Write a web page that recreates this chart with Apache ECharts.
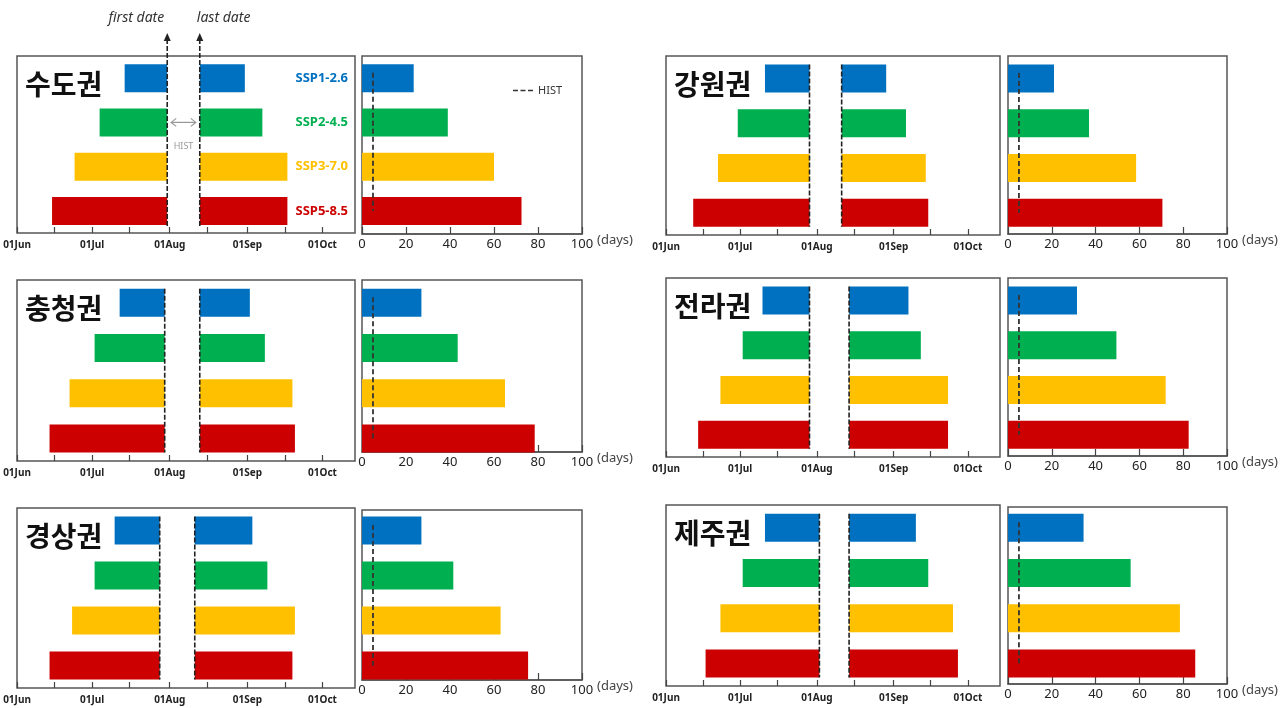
<!DOCTYPE html>
<html>
<head>
<meta charset="utf-8">
<title>권역별 first/last date</title>
<script src="https://cdn.jsdelivr.net/npm/echarts@6/dist/echarts.min.js"></script>
<style>
  html, body { margin: 0; padding: 0; background: #fff; }
  #chart { width: 1286px; height: 708px; }
</style>
</head>
<body>
<div id="chart"></div>
<script>
var regions = ['수도권', '강원권', '충청권', '전라권', '경상권', '제주권'];
var scenarios = ['SSP1-2.6', 'SSP2-4.5', 'SSP3-7.0', 'SSP5-8.5'];
var colors = ['#0070c0', '#00b050', '#ffc000', '#cc0000'];

// 날짜는 6월 1일부터의 일수 (0 = 01Jun)
var firstDate = [
  [43, 33, 23, 14],
  [40, 29, 21, 11],
  [41, 31, 21, 13],
  [39, 31, 22, 13],
  [39, 31, 22, 13],
  [40, 31, 22, 16]
];
var lastDate = [
  [91, 98, 108, 108],
  [89, 97, 105, 106],
  [93, 99, 110, 111],
  [98, 103, 114, 114],
  [94, 100, 111, 110],
  [101, 106, 116, 118]
];
var histFirst = [60, 58, 59, 58, 57, 62];
var histLast = [73, 71, 73, 74, 71, 74];

// 지속일수 (days)
var duration = [
  [23.5, 39, 60, 72.5],
  [21, 37, 58.5, 70.5],
  [27, 43.5, 65, 78.5],
  [31.5, 49.5, 72, 82.5],
  [27, 41.5, 63, 75.5],
  [34.5, 56, 78.5, 85.5]
];
var histDuration = [5, 5, 5, 5, 5, 5];

var monthTicks = [0, 30, 61, 92, 122];
var monthLabels = ['01Jun', '01Jul', '01Aug', '01Sep', '01Oct'];
var midTicks = [15, 45, 76, 107];

// 패널 위치 (px)
var dateBox = [
  [17, 56, 338, 177], [666, 56, 334, 179],
  [17, 280, 338, 181], [666, 278, 334, 179],
  [17, 508, 338, 180], [666, 505, 334, 181]
];
var durBox = [
  [362, 56, 220, 178], [1008, 56, 219, 178],
  [362, 280, 220, 172], [1008, 278, 219, 178],
  [362, 510, 220, 170], [1008, 507, 219, 177]
];
var BAR = 28;
var FRAME = '#555';

var chart = echarts.init(document.getElementById('chart'));

var grid = [], xAxis = [], yAxis = [], series = [], title = [];

function colorOf(p) { return colors[p.dataIndex]; }

regions.forEach(function(name, r) {
  var d = dateBox[r], u = durBox[r];
  var gi = r * 3;

  // 날짜 패널
  grid.push({ left: d[0], top: d[1], width: d[2], height: d[3], show: true, borderColor: FRAME, borderWidth: 1.5 });
  // 지속일수 막대 (날짜 패널과 같은 세로 범위)
  grid.push({ left: u[0], top: d[1], width: u[2], height: d[3] });
  // 지속일수 테두리 + 축
  grid.push({ left: u[0], top: u[1], width: u[2], height: u[3], show: true, borderColor: FRAME, borderWidth: 1.5 });

  xAxis.push({
    gridIndex: gi, type: 'value', min: 0, max: 135,
    axisLine: { lineStyle: { color: FRAME, width: 1.5 } },
    axisTick: { show: true, inside: true, length: 6, customValues: monthTicks.concat(midTicks), lineStyle: { color: '#444', width: 1.2 } },
    axisLabel: {
      customValues: monthTicks, margin: 7,
      formatter: function(v) { return monthLabels[monthTicks.indexOf(v)]; },
      color: '#222', fontSize: 10, fontWeight: 'bold', fontFamily: 'Noto Sans'
    },
    splitLine: { show: false }
  });
  xAxis.push({ gridIndex: gi + 1, type: 'value', min: 0, max: 100, show: false });
  xAxis.push({
    gridIndex: gi + 2, type: 'value', min: 0, max: 100, interval: 20,
    name: '(days)', nameLocation: 'end', nameGap: 14,
    nameTextStyle: { color: '#444', fontSize: 13, fontFamily: 'Noto Sans', verticalAlign: 'top' },
    axisLine: { lineStyle: { color: FRAME, width: 1.5 } },
    axisTick: { show: true, inside: true, length: 7, lineStyle: { color: '#444', width: 1.2 } },
    axisLabel: { margin: 4, color: '#222', fontSize: 13, fontFamily: 'Noto Sans' },
    splitLine: { show: false }
  });

  yAxis.push({
    gridIndex: gi, type: 'category', data: scenarios, inverse: true, position: 'right',
    axisLine: { show: false }, axisTick: { show: false },
    axisLabel: {
      show: r === 0, inside: true, margin: 7,
      fontSize: 13, fontWeight: 'bold', fontFamily: 'Noto Sans',
      color: function(v, i) { return colors[i]; }
    }
  });
  yAxis.push({ gridIndex: gi + 1, type: 'category', data: scenarios, inverse: true, show: false });
  yAxis.push({ gridIndex: gi + 2, type: 'value', min: 0, max: 1, show: false });

  // 막대: first date ~ HIST first, HIST last ~ last date
  var stack = 'dates' + r;
  series.push({ type: 'bar', xAxisIndex: gi, yAxisIndex: gi, stack: stack, barWidth: BAR, silent: true,
    itemStyle: { color: 'rgba(0,0,0,0)' }, data: firstDate[r] });
  series.push({ type: 'bar', xAxisIndex: gi, yAxisIndex: gi, stack: stack, barWidth: BAR,
    itemStyle: { color: colorOf }, data: firstDate[r].map(function(v) { return histFirst[r] - v; }) });
  series.push({ type: 'bar', xAxisIndex: gi, yAxisIndex: gi, stack: stack, barWidth: BAR, silent: true,
    itemStyle: { color: 'rgba(0,0,0,0)' }, data: firstDate[r].map(function() { return histLast[r] - histFirst[r]; }) });
  series.push({ type: 'bar', xAxisIndex: gi, yAxisIndex: gi, stack: stack, barWidth: BAR,
    itemStyle: { color: colorOf }, data: lastDate[r].map(function(v) { return v - histLast[r]; }) });

  // HIST first / last 점선
  series.push({
    type: 'custom', name: 'HIST dates', xAxisIndex: gi, yAxisIndex: gi, z: 5, silent: true,
    data: [[histFirst[r], 0], [histLast[r], 0]],
    renderItem: function(params, api) {
      var x = api.coord([api.value(0), 0])[0];
      var yTop = api.coord([0, 0])[1] - BAR / 2;
      var yBot = api.coord([0, 3])[1] + BAR / 2;
      var kids = [];
      var dash = { stroke: '#222', lineWidth: 1.6, lineDash: [5, 2] };
      if (r === 0) {
        var tip = api.coord([0, 0])[1] - api.size([0, 1])[1] / 2 - 23;
        kids.push({ type: 'line', shape: { x1: x, y1: tip + 6, x2: x, y2: yBot + 2 }, style: dash });
        kids.push({ type: 'polygon', shape: { points: [[x, tip], [x - 3.5, tip + 8], [x + 3.5, tip + 8]] },
          style: { fill: '#222' } });
        var first = params.dataIndex === 0;
        kids.push({ type: 'text', x: x - 3, y: tip - 15,
          style: { text: first ? 'first date' : 'last date', fill: '#333', fontSize: 14, fontStyle: 'italic',
            fontFamily: 'Noto Sans', align: first ? 'right' : 'left', verticalAlign: 'middle' } });
        if (first) {
          var x2 = api.coord([histLast[r], 0])[0];
          var ya = api.coord([0, 1])[1];
          var g = '#999';
          kids.push({ type: 'line', shape: { x1: x + 4, y1: ya, x2: x2 - 4, y2: ya }, style: { stroke: g, lineWidth: 1.2 } });
          kids.push({ type: 'polyline', shape: { points: [[x + 9, ya - 4], [x + 4, ya], [x + 9, ya + 4]] }, style: { stroke: g, lineWidth: 1.2, fill: null } });
          kids.push({ type: 'polyline', shape: { points: [[x2 - 9, ya - 4], [x2 - 4, ya], [x2 - 9, ya + 4]] }, style: { stroke: g, lineWidth: 1.2, fill: null } });
          kids.push({ type: 'text', x: (x + x2) / 2, y: api.coord([0, 1])[1] + api.size([0, 1])[1] / 2 + 2,
            style: { text: 'HIST', fill: '#999', fontSize: 9, fontFamily: 'Noto Sans', align: 'center', verticalAlign: 'middle' } });
        }
      } else {
        kids.push({ type: 'line', shape: { x1: x, y1: yTop, x2: x, y2: yBot }, style: dash });
      }
      return { type: 'group', children: kids };
    }
  });

  // 지속일수 막대
  series.push({ type: 'bar', xAxisIndex: gi + 1, yAxisIndex: gi + 1, barWidth: BAR,
    itemStyle: { color: colorOf }, data: duration[r] });
  series.push({
    type: 'custom', name: 'HIST', xAxisIndex: gi + 1, yAxisIndex: gi + 1, z: 5, silent: true,
    itemStyle: { color: '#333' },
    data: [[histDuration[r], 0]],
    renderItem: function(params, api) {
      var x = api.coord([api.value(0), 0])[0];
      var band = api.size([0, 1])[1];
      var y0 = api.coord([0, 0])[1] - band * 0.12;
      var y1 = api.coord([0, 3])[1];
      return { type: 'line', shape: { x1: x, y1: y0, x2: x, y2: y1 },
        style: { stroke: '#333', lineWidth: 1.8, lineDash: [5, 3] } };
    }
  });

  title.push({ text: name, left: d[0] + 8, top: d[1] + 14, padding: 0,
    textStyle: { fontSize: 28, fontWeight: 'bold', color: '#111', fontFamily: 'Noto Sans CJK KR' } });
});

chart.setOption({
  animation: false,
  textStyle: { fontFamily: 'Noto Sans' },
  title: title,
  legend: {
    data: [{ name: 'HIST', icon: 'path://M0,0L6,0L6,2L0,2Z M9,0L15,0L15,2L9,2Z M18,0L24,0L24,2L18,2Z' }],
    left: 508, top: 80, itemWidth: 20, itemHeight: 2, itemGap: 5, selectedMode: false,
    textStyle: { fontSize: 11, color: '#333', fontFamily: 'Noto Sans' }
  },
  grid: grid,
  xAxis: xAxis,
  yAxis: yAxis,
  series: series
});

window.addEventListener('resize', function() { chart.resize(); });
</script>
</body>
</html>
